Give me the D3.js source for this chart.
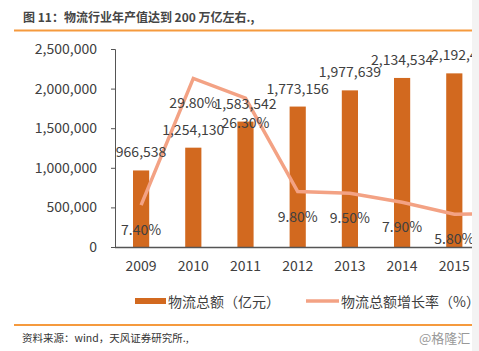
<!DOCTYPE html>
<html><head><meta charset="utf-8">
<script src="https://cdn.jsdelivr.net/npm/d3@7"></script>
<style>
html,body{margin:0;padding:0;background:#fff;}
svg{display:block;}
text{font-family:"Microsoft YaHei","Noto Sans CJK SC","Noto Sans",sans-serif;}
</style></head>
<body>
<svg id="c" width="479" height="351"></svg>
<script>
// 2016 lies beyond the cropped right edge; only the start of its line segment is visible
const years = ["2009","2010","2011","2012","2013","2014","2015","2016"];
const yearLabels = ["2009","2010","2011","2012","2013","2014","2015",""];
const totals = [966538, 1254130, 1583542, 1773156, 1977639, 2134534, 2192400, null];
const totalLabels = ["966,538","1,254,130","1,583,542","1,773,156","1,977,639","2,134,534","2,192,4",""];
const growth = [7.4, 29.8, 26.3, 9.8, 9.5, 7.9, 5.8, 5.9];
const growthLabels = ["7.40%","29.80%","26.30%","9.80%","9.50%","7.90%","5.80%",""];
const yTicks = [0, 500000, 1000000, 1500000, 2000000, 2500000];
const legendNames = ["物流总额（亿元）", "物流总额增长率（%）"];
const titleText = "图 11：物流行业年产值达到 200 万亿左右.,";
const sourceText = "资料来源：wind，天风证券研究所.,";
const watermark = "@格隆汇";

const svg = d3.select("#c");
const W = 479, H = 351, clipX = 472;
const barColor = "#D2691F", lineColor = "#F3A284", ruleColor = "#F59A3E", textColor = "#404040";

svg.append("defs").append("clipPath").attr("id","clip")
  .append("rect").attr("x",0).attr("y",0).attr("width",clipX).attr("height",H);
svg.append("rect").attr("x",clipX).attr("y",0).attr("width",W-clipX).attr("height",H).attr("fill","#f3f3f3");

const g = svg.append("g").attr("clip-path","url(#clip)");

// title
g.append("text").attr("x",23).attr("y",22).attr("font-size",12).attr("font-weight","bold")
  .attr("fill","#454545").text(titleText);
g.append("line").attr("x1",14).attr("x2",clipX).attr("y1",30.5).attr("y2",30.5)
  .attr("stroke",ruleColor).attr("stroke-width",1.8);

const step = 52.2;
const x = d3.scaleBand().domain(years).range([115, 115 + years.length*step]).paddingInner(0.69).paddingOuter(0.345);
const y = d3.scaleLinear().domain([0, 2500000]).range([247, 49]);
const y2 = d3.scaleLinear().domain([0, 35]).range([247, 49]);

// y axis
const yAxis = g.append("g").attr("transform","translate(115,0)")
  .call(d3.axisLeft(y).tickValues(yTicks).tickSize(4).tickPadding(14).tickFormat(d3.format(",")));
yAxis.select(".domain").attr("stroke","#555").attr("d","M-4,49.5H0.5V247");
yAxis.selectAll(".tick line").attr("stroke","#555");
yAxis.selectAll("text").attr("font-size",14).attr("fill",textColor)
  .attr("font-family","\"Microsoft YaHei\",\"Noto Sans CJK SC\",sans-serif");

// bars
const barYears = years.filter((d,i)=>totals[i] != null);
g.selectAll("rect.bar").data(barYears).join("rect").attr("class","bar")
  .attr("x",d=>x(d)).attr("width",x.bandwidth())
  .attr("y",d=>y(totals[years.indexOf(d)])).attr("height",d=>y(0)-y(totals[years.indexOf(d)]))
  .attr("fill",barColor);

// x axis
const xAxis = g.append("g").attr("transform","translate(0,247)")
  .call(d3.axisBottom(x).tickSize(0).tickPadding(14).tickValues(years.filter((d,i)=>yearLabels[i])));
xAxis.select(".domain").attr("stroke","#555").attr("stroke-width",1.3).attr("d","M115,0.5H" + clipX);
xAxis.selectAll("text").attr("font-size",14).attr("fill",textColor)
  .attr("font-family","\"Microsoft YaHei\",\"Noto Sans CJK SC\",sans-serif");

// line
const cx = d => x(d) + x.bandwidth()/2;
const line = d3.line().x((d,i)=>cx(years[i])).y(d=>y2(d));
g.append("path").datum(growth).attr("d",line).attr("fill","none")
  .attr("stroke",lineColor).attr("stroke-width",3.5).attr("stroke-linejoin","miter");

// bar labels
g.selectAll("text.bl").data(barYears).join("text").attr("class","bl")
  .attr("x",d=>cx(d)).attr("y",d=>y(totals[years.indexOf(d)]) - 13)
  .attr("text-anchor","middle").attr("font-size",14).attr("fill",textColor)
  .text(d=>totalLabels[years.indexOf(d)]);

// growth labels
const labYears = years.filter((d,i)=>growthLabels[i]);
g.selectAll("text.gl").data(labYears).join("text").attr("class","gl")
  .attr("x",d=>cx(d)).attr("y",d=>y2(growth[years.indexOf(d)]) + 30)
  .attr("text-anchor","middle").attr("font-size",14).attr("fill",textColor)
  .text(d=>growthLabels[years.indexOf(d)]);

// legend
const lg = g.append("g");
lg.append("rect").attr("x",135).attr("y",298).attr("width",31).attr("height",6).attr("fill",barColor);
lg.append("text").attr("x",168).attr("y",306.5).attr("font-size",14).attr("fill",textColor).text(legendNames[0]);
lg.append("line").attr("x1",306).attr("x2",339).attr("y1",301).attr("y2",301).attr("stroke",lineColor).attr("stroke-width",3.5);
lg.append("text").attr("x",341).attr("y",306.5).attr("font-size",14).attr("fill",textColor).text(legendNames[1]);

// bottom rule and source
g.append("line").attr("x1",14).attr("x2",clipX).attr("y1",325).attr("y2",325)
  .attr("stroke",ruleColor).attr("stroke-width",1.8);
g.append("text").attr("x",22).attr("y",342).attr("font-size",10.5).attr("fill","#333").text(sourceText);
g.append("text").attr("x",419).attr("y",343).attr("font-size",13).attr("fill","#999").text(watermark);
</script>
</body></html>
